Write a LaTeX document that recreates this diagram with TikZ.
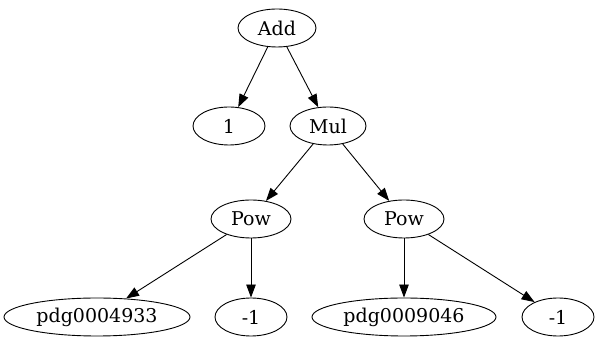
\documentclass[tikz,border=0pt]{standalone}
\usepackage{fontspec}
\setmainfont{DejaVu Serif}
\usetikzlibrary{shapes.geometric,arrows.meta}
\begin{document}
\begin{tikzpicture}[x=1pt,y=1pt,
  gnode/.style={ellipse,draw,line width=0.9pt,inner sep=0pt,minimum height=38pt,font=\fontsize{19}{21}\selectfont},
  edge/.style={line width=0.9pt,-{Triangle[length=13pt,width=9.5pt]}}]
\useasboundingbox (0,0) rectangle (599,347);
\node[gnode,minimum width=78pt] (add) at (277,319) {Add};
\node[gnode,minimum width=72pt] (one) at (229,221) {1};
\node[gnode,minimum width=76pt] (mul) at (328,221) {Mul};
\node[gnode,minimum width=80pt] (powl) at (251,128) {Pow};
\node[gnode,minimum width=80pt] (powr) at (404,128) {Pow};
\node[gnode,minimum width=186pt] (pdgl) at (97,30) {pdg0004933};
\node[gnode,minimum width=72pt] (m1l) at (251,30) {-1};
\node[gnode,minimum width=184pt] (pdgr) at (404,30) {pdg0009046};
\node[gnode,minimum width=72pt] (m1r) at (558,30) {-1};
\draw[edge] (add) -- (one);
\draw[edge] (add) -- (mul);
\draw[edge] (mul) -- (powl);
\draw[edge] (mul) -- (powr);
\draw[edge] (powl) -- (pdgl);
\draw[edge] (powl) -- (m1l);
\draw[edge] (powr) -- (pdgr);
\draw[edge] (powr) -- (m1r);
\end{tikzpicture}
\end{document}
